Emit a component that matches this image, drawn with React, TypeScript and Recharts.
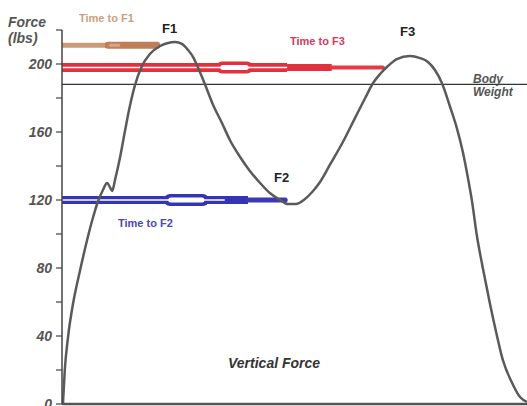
import { ComposedChart, Line, XAxis, YAxis, ReferenceLine } from "recharts"

// time is % of the ground contact, force in lbs
const time = [
  0.2, 0.6, 1.3, 2.4, 3.9, 5.4, 6.7, 7.7, 8.8, 9.7, 10.3, 10.8, 11.4, 12.5, 13.5, 14.6,
  15.7, 17.2, 18.9, 21.1, 22.8, 24.3, 25.8, 27.1, 28.2, 29.2, 30.8, 32.5, 34.4, 36.1, 38.3,
  40.4, 42.6, 44.7, 46.9, 48.6, 50.3, 52.0, 53.8, 55.5, 57.6, 60.4, 63.0, 65.2, 66.9, 68.4,
  70.1, 72.0, 74.8, 77.0, 78.7, 80.2, 81.7, 83.4, 84.9, 86.2, 87.3, 88.2, 89.2, 90.5, 92.0,
  93.5, 94.8, 96.8, 98.5, 100,
]
const force = [
  0, 20.0, 39.4, 59.4, 78.8, 96.5, 110.0, 118.8, 125.9, 130.0, 127.6, 125.3, 131.8,
  145.3, 160.0, 175.3, 187.6, 198.8, 205.9, 210.6, 212.4, 212.9, 211.8, 208.2, 204.1, 198.2,
  187.6, 175.9, 165.3, 155.3, 145.3, 137.1, 130.0, 124.1, 120.0, 117.6, 117.6, 120.0, 124.7,
  130.6, 140.6, 154.1, 168.2, 180.0, 188.8, 194.1, 198.8, 202.9, 204.7, 203.5, 201.2, 196.5,
  188.8, 175.3, 162.4, 148.2, 132.9, 118.8, 99.4, 80.0, 59.4, 40.6, 25.9, 12.4, 4.1, 1.2,
]

const yTicks = [0, 20, 40, 60, 80, 100, 120, 140, 160, 180, 200, 220]
const bodyWeight = 188

// time-to-peak bars: force level and the time where each ends
const f1Level = 211
const f1End = 20.4
const f3Level = 198
const f3End = 69
const f2Level = 120
const f2End = 48

const curveData = time.map((t, i) => ({ t, F: force[i] }))

const seg = (from: number, to: number, level: number) => [
  { t: from, F: level },
  { t: to, F: level },
]

const font = "'Liberation Sans', Arial, sans-serif"

export default function App() {
  const bars = [
    // Time to F1 (brown)
    { d: seg(0, 9.9, f1Level), c: "#cc9a7a", w: 5, cap: "butt" },
    { d: seg(9.9, f1End, f1Level), c: "#c07e58", w: 7, cap: "round" },
    { d: seg(10.4, 12.2, f1Level), c: "#d9a484", w: 3, cap: "round" },
    // Time to F3 (red)
    { d: seg(0, 48.4, f3Level), c: "#e2303e", w: 9, cap: "butt" },
    { d: seg(48.4, 58, f3Level), c: "#e2303e", w: 7, cap: "butt" },
    { d: seg(58, f3End, f3Level), c: "#e53a44", w: 4, cap: "round" },
    { d: seg(34.4, 39.8, f3Level), c: "#e2303e", w: 12, cap: "round" },
    { d: seg(34.6, 39.6, f3Level), c: "#ffffff", w: 5, cap: "round" },
    { d: seg(0, 48.4, f3Level), c: "#ffffff", w: 1.5, cap: "butt" },
    // Time to F2 (blue)
    { d: seg(0, 40, f2Level), c: "#3434b4", w: 8, cap: "butt" },
    { d: seg(40, f2End, f2Level), c: "#3a3ab8", w: 5, cap: "round" },
    { d: seg(23.2, 30.3, f2Level), c: "#3434b4", w: 12, cap: "round" },
    { d: seg(23.4, 30.1, f2Level), c: "#ffffff", w: 5, cap: "round" },
    { d: seg(0, 35, f2Level), c: "#ffffff", w: 1.5, cap: "butt" },
  ]

  return (
    <div style={{ position: "absolute", left: 0, top: 0, width: 527, height: 406, background: "#fff" }}>
      <ComposedChart width={527} height={406} data={curveData} margin={{ top: 30, right: 0, bottom: 0, left: 0 }}>
        <XAxis
          type="number"
          dataKey="t"
          domain={[0, 100]}
          allowDataOverflow
          tick={false}
          tickLine={false}
          height={2}
          axisLine={{ stroke: "#555", strokeWidth: 2.5 }}
        />
        <YAxis
          type="number"
          domain={[0, 220]}
          ticks={yTicks}
          interval={0}
          width={62}
          tickSize={6}
          tickMargin={4}
          axisLine={{ stroke: "#444", strokeWidth: 1.5 }}
          tickLine={{ stroke: "#444", strokeWidth: 1.2 }}
          tick={{ fill: "#555", fontSize: 14, fontWeight: "bold", fontStyle: "italic", fontFamily: font }}
          tickFormatter={(v: number) => (v % 40 === 0 && v < 220 ? String(v) : "")}
        />
        <ReferenceLine y={bodyWeight} stroke="#333" strokeWidth={1.2} />
        {bars.map((b, i) => (
          <Line
            key={`bar-${i}`}
            data={b.d}
            dataKey="F"
            type="linear"
            stroke={b.c}
            strokeWidth={b.w}
            strokeLinecap={b.cap as any}
            dot={false}
            activeDot={false}
            isAnimationActive={false}
          />
        ))}
        <Line
          dataKey="F"
          type="monotone"
          stroke="#5a5a5a"
          strokeWidth={2.5}
          dot={false}
          activeDot={false}
          isAnimationActive={false}
        />
      </ComposedChart>
      <svg
        width={527}
        height={406}
        style={{ position: "absolute", left: 0, top: 0, pointerEvents: "none" }}
        fontFamily={font}
      >
        <g fill="#555" fontWeight="bold" fontStyle="italic" fontSize={14}>
          <text x={8} y={27}>Force</text>
          <text x={8} y={43}>(lbs)</text>
        </g>
        <g fontWeight="bold" fontSize={11}>
          <text x={79} y={22} fill="#c9a07f">Time to F1</text>
          <text x={290} y={45} fill="#d63a5a">Time to F3</text>
          <text x={118} y={227} fill="#4a4ab4">Time to F2</text>
        </g>
        <g fontWeight="bold" fontSize={13} fill="#222">
          <text x={162} y={33}>F1</text>
          <text x={274} y={182}>F2</text>
          <text x={400} y={36}>F3</text>
        </g>
        <g fontWeight="bold" fontStyle="italic" fontSize={12} fill="#555">
          <text x={473} y={83}>Body</text>
          <text x={473} y={96}>Weight</text>
        </g>
        <text x={228} y={368} fontWeight="bold" fontStyle="italic" fontSize={14} fill="#333">
          Vertical Force
        </text>
      </svg>
    </div>
  )
}
